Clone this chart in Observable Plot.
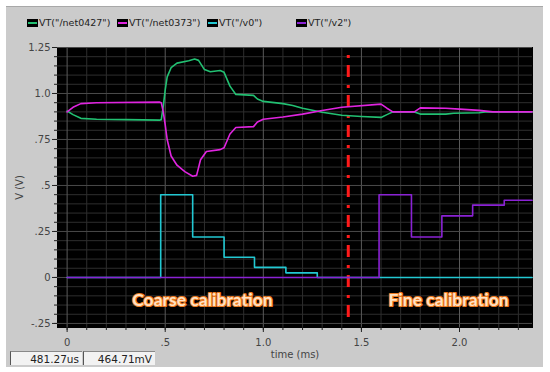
<!DOCTYPE html>
<html>
<head>
<meta charset="utf-8">
<script src="https://cdn.jsdelivr.net/npm/d3@7"></script>
<script src="https://cdn.jsdelivr.net/npm/@observablehq/plot@0.6"></script>
<style>
  html, body { margin: 0; padding: 0; background: #ffffff; }
  #wrap { position: relative; width: 550px; height: 372px; overflow: hidden; }
  #panel { position: absolute; left: 6px; top: 6px; width: 537px; height: 360px; background: #cbcbcb; border-top: 1px solid #a8a8a8; }
  #chart { position: absolute; left: 0; top: 0; }
  .leg { position: absolute; top: 17px; font: 9.5px "DejaVu Sans", sans-serif; color: #222; white-space: nowrap; display: flex; align-items: center; }
  .sw { display: inline-block; width: 11px; height: 8px; background: #000; position: relative; margin-right: 1px; }
  .sw i { position: absolute; left: 1px; right: 1px; top: 3px; height: 2px; }
  .box { position: absolute; top: 351px; height: 14px; width: 70px; background: #f2f2f2; border-left: 1px solid #555; border-top: 1px solid #888; font: 10.5px "DejaVu Sans", sans-serif; color: #222; text-align: right; line-height: 14px; padding-right: 3px; box-sizing: border-box; }
</style>
</head>
<body>
<div id="wrap">
  <div id="panel"></div>
  <div id="chart"></div>
  <div id="legend"></div>
  <div class="box" style="left:10px;width:72px;">481.27us</div>
  <div class="box" style="left:83px;width:72px;">464.71mV</div>
</div>
<script>
// ---- data ----
const seriesNames = ['VT("/net0427")', 'VT("/net0373")', 'VT("/v0")', 'VT("/v2")'];
const seriesColors = ["#22c072", "#e024e0", "#22c8d2", "#8a22d4"];

const net0427T = [0, 0.03, 0.07, 0.15, 0.3, 0.47, 0.48, 0.49, 0.50, 0.51, 0.53, 0.56, 0.62, 0.65, 0.67, 0.70, 0.73, 0.78, 0.80, 0.83, 0.86, 0.95, 0.97, 1.0, 1.1, 1.15, 1.2, 1.3, 1.4, 1.5, 1.6, 1.63, 1.66, 1.77, 1.80, 1.93, 1.97, 2.1, 2.13, 2.37];
const net0427V = [0.905, 0.885, 0.865, 0.86, 0.858, 0.855, 0.858, 0.93, 1.02, 1.09, 1.14, 1.165, 1.178, 1.187, 1.18, 1.13, 1.118, 1.125, 1.115, 1.04, 0.995, 0.99, 0.97, 0.957, 0.945, 0.935, 0.92, 0.898, 0.882, 0.875, 0.87, 0.885, 0.9, 0.9, 0.888, 0.888, 0.893, 0.895, 0.9, 0.9];

const net0373T = [0, 0.03, 0.07, 0.15, 0.47, 0.48, 0.49, 0.50, 0.51, 0.53, 0.56, 0.6, 0.64, 0.66, 0.68, 0.71, 0.78, 0.80, 0.83, 0.86, 0.95, 0.97, 1.0, 1.1, 1.2, 1.3, 1.4, 1.6, 1.63, 1.66, 1.77, 1.80, 1.93, 2.0, 2.1, 2.17, 2.37];
const net0373V = [0.9, 0.925, 0.945, 0.95, 0.953, 0.95, 0.90, 0.83, 0.75, 0.66, 0.61, 0.575, 0.55, 0.555, 0.64, 0.685, 0.695, 0.705, 0.78, 0.815, 0.82, 0.845, 0.86, 0.872, 0.888, 0.908, 0.925, 0.942, 0.92, 0.9, 0.9, 0.922, 0.92, 0.915, 0.908, 0.9, 0.9];

const v0T = [0, 0.477, 0.64, 0.80, 0.955, 1.115, 1.275, 2.37];
const v0V = [0, 0.45, 0.22, 0.11, 0.055, 0.025, 0, 0];

const v2T = [0, 1.59, 1.755, 1.91, 2.067, 2.228, 2.37];
const v2V = [0, 0.45, 0.22, 0.335, 0.393, 0.42, 0.42];

const markerT = 1.433;
const markerRange = [-0.217, 1.217];

const xTicks = [0, 0.5, 1, 1.5, 2];
const xTickLabels = ["0", ".5", "1.0", "1.5", "2.0"];
const yTicks = [-0.25, 0, 0.25, 0.5, 0.75, 1, 1.25];
const yTickLabels = ["-.25", "0", ".25", ".5", ".75", "1.0", "1.25"];
const xMinor = d3.range(0, 24).map(i => i / 10);
const yMinor = d3.range(-5, 26).map(i => i / 20);

const annotations = [
  {t: 0.69, v: -0.125, text: "Coarse calibration"},
  {t: 1.944, v: -0.125, text: "Fine calibration"}
];

// ---- build ----
const toRows = (T, V, s) => T.map((t, i) => ({t, v: V[i], s}));
const green = toRows(net0427T, net0427V, seriesNames[0]);
const magenta = toRows(net0373T, net0373V, seriesNames[1]);
const cyan = toRows(v0T, v0V, seriesNames[2]);
const purple = toRows(v2T, v2V, seriesNames[3]);

const chart = Plot.plot({
  width: 550,
  height: 372,
  marginLeft: 57,
  marginRight: 18,
  marginTop: 47,
  marginBottom: 45,
  style: {background: "transparent", fontFamily: "DejaVu Sans, sans-serif", fontSize: "10px", color: "#333"},
  x: {domain: [-0.049, 2.372]},
  y: {domain: [-0.272, 1.25]},
  marks: [
    Plot.frame({fill: "#000", stroke: "#000"}),
    Plot.ruleX(xMinor.filter(d => !xTicks.includes(d)), {stroke: "#2e2e2e", strokeWidth: 1}),
    Plot.ruleY(yMinor.filter(d => !yTicks.includes(d)), {stroke: "#2e2e2e", strokeWidth: 1}),
    Plot.ruleX(xTicks, {stroke: "#5a5a5a", strokeWidth: 1}),
    Plot.ruleY(yTicks, {stroke: "#4a4a4a", strokeWidth: 1}),
    Plot.axisX(xMinor, {tickSize: 3, fill: "none", stroke: "#222", label: null}),
    Plot.axisY(yMinor, {tickSize: 3, fill: "none", stroke: "#222", label: null}),
    Plot.axisX(xTicks, {tickSize: 5, tickPadding: 6, tickFormat: (d, i) => xTickLabels[i], stroke: "#222", fill: "#444",
      label: "time (ms)", labelAnchor: "center", labelArrow: "none", labelOffset: 30}),
    Plot.axisY(yTicks, {tickSize: 5, tickPadding: 2, tickFormat: (d, i) => yTickLabels[i], stroke: "#222", fill: "#444",
      label: "V (V)", labelAnchor: "center", labelArrow: "none", labelOffset: 42}),
    Plot.text(annotations, {x: "t", y: "v", text: "text", fill: "#ffe2c4", stroke: "#ec7a22", strokeWidth: 2.2,
      fontFamily: "Lato, Open Sans, sans-serif", fontWeight: "bold", fontSize: 17.5, paintOrder: "stroke"}),
    Plot.ruleX([markerT], {y1: markerRange[0], y2: markerRange[1], stroke: "#ff1a1a", strokeWidth: 3, strokeDasharray: "12,7,3,8"}),
    Plot.line(green, {x: "t", y: "v", stroke: seriesColors[0], strokeWidth: 1.6}),
    Plot.line(magenta, {x: "t", y: "v", stroke: seriesColors[1], strokeWidth: 1.6}),
    Plot.line(cyan, {x: "t", y: "v", stroke: seriesColors[2], strokeWidth: 1.6, curve: "step-after"}),
    Plot.line(purple, {x: "t", y: "v", stroke: seriesColors[3], strokeWidth: 1.6, curve: "step-after"})
  ]
});
document.getElementById("chart").appendChild(chart);

// legend
const legX = [27, 117, 207, 296];
const leg = document.getElementById("legend");
seriesNames.forEach((name, i) => {
  const d = document.createElement("div");
  d.className = "leg";
  d.style.left = legX[i] + "px";
  d.innerHTML = `<span class="sw"><i style="background:${seriesColors[i]}"></i></span>`;
  d.appendChild(document.createTextNode(name));
  leg.appendChild(d);
});
</script>
</body>
</html>
